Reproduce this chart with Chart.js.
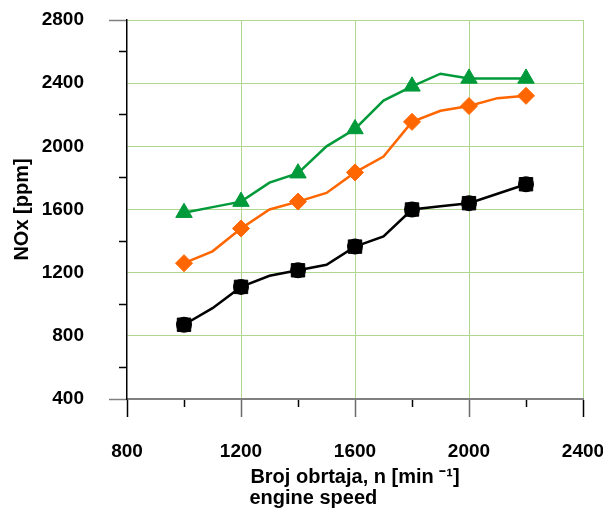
<!DOCTYPE html>
<html>
<head>
<meta charset="utf-8">
<script src="https://cdn.jsdelivr.net/npm/chart.js@4"></script>
<style>
  html, body { margin: 0; padding: 0; background: #fff; }
  #wrap { width: 603px; height: 509px; }
</style>
</head>
<body>
<div id="wrap"><canvas id="noxChart" width="603" height="509"></canvas></div>
<script>
// engine speed [min-1] and NOx [ppm]
const speeds    = [1000, 1100, 1200, 1300, 1400, 1500, 1600, 1700, 1800, 1900, 2000, 2100, 2200];
const noxGreen  = [1580, 1615, 1650, 1770, 1830, 2000, 2110, 2290, 2380, 2460, 2430, 2430, 2430];
const noxOrange = [1260, 1335, 1480, 1600, 1650, 1705, 1835, 1935, 2155, 2225, 2255, 2305, 2320];
const noxBlack  = [870, 975, 1110, 1180, 1215, 1250, 1365, 1430, 1600, 1620, 1640, 1700, 1760];

const xTicks = [800, 1200, 1600, 2000, 2400];
const yTicks = [400, 800, 1200, 1600, 2000, 2400, 2800];

const GRID = '#b0d78e';
const FONT = 'Liberation Sans, Arial, sans-serif';

const pts = arr => arr.map((v, i) => ({ x: speeds[i], y: v }));
// markers only on every second point
const marker = r => ctx => (ctx.dataIndex % 2 === 0 ? r : 0);

const ctx = document.getElementById('noxChart').getContext('2d');

new Chart(ctx, {
  type: 'line',
  data: {
    datasets: [
      {
        data: pts(noxGreen),
        borderColor: '#009a3a',
        backgroundColor: '#009a3a',
        borderWidth: 2.5,
        pointStyle: 'triangle',
        pointRadius: marker(9.5),
        pointBorderWidth: 1
      },
      {
        data: pts(noxOrange),
        borderColor: '#ff6600',
        backgroundColor: '#ff6600',
        borderWidth: 2.5,
        pointStyle: 'rectRot',
        pointRadius: marker(8.5),
        pointBorderWidth: 1
      },
      {
        data: pts(noxBlack),
        borderColor: '#000',
        backgroundColor: '#000',
        borderWidth: 2.5,
        pointStyle: 'rect',
        pointRadius: marker(9.5),
        pointBorderWidth: 1
      },
      {
        data: pts(noxBlack),
        showLine: false,
        borderColor: '#000',
        backgroundColor: '#000',
        pointStyle: 'circle',
        pointRadius: marker(8),
        pointBorderWidth: 0
      }
    ]
  },
  options: {
    responsive: false,
    animation: false,
    events: [],
    layout: { padding: { top: 20, right: 20, left: 0, bottom: 0 } },
    plugins: { legend: { display: false }, tooltip: { enabled: false } },
    elements: { line: { tension: 0 } },
    scales: {
      x: {
        type: 'linear',
        min: 800,
        max: 2400,
        afterFit: s => { s.height = 110; s.paddingLeft = 0; s.paddingRight = 0; },
        ticks: {
          stepSize: 200,
          autoSkip: false,
          maxRotation: 0,
          padding: 23,
          color: '#000',
          font: { family: FONT, size: 19, weight: 'bold' },
          callback: v => (xTicks.includes(v) ? String(v) : '')
        },
        grid: {
          tickLength: 18,
          color: c => (c.tick && xTicks.includes(c.tick.value) && c.tick.value > 800 ? GRID : 'rgba(0,0,0,0)'),
          tickColor: c => {
            const v = c.tick.value;
            if (v === 800 || v === 2400) return '#000';
            return xTicks.includes(v) ? '#6b6b6b' : '#000';
          },
          tickWidth: 1.5,
          tickBorderDash: c => (xTicks.includes(c.tick.value) ? [] : [7, 100])
        },
        border: { color: '#808080', width: 2 },
        title: {
          display: true,
          text: ['Broj obrtaja, n [min \u207B\u00B9]', 'engine speed' + ' '.repeat(15)],
          color: '#000',
          font: { family: FONT, size: 20, weight: 'bold', lineHeight: 1.05 },
          padding: { top: 0, bottom: 0 }
        }
      },
      y: {
        min: 400,
        max: 2800,
        afterFit: s => { s.width = 127; s.paddingTop = 0; s.paddingBottom = 0; },
        ticks: {
          stepSize: 200,
          autoSkip: false,
          padding: 25,
          color: '#000',
          font: { family: FONT, size: 19, weight: 'bold' },
          callback: v => (yTicks.includes(v) ? String(v) : '')
        },
        grid: {
          tickLength: 18,
          color: c => (c.tick && yTicks.includes(c.tick.value) && c.tick.value > 400 ? GRID : 'rgba(0,0,0,0)'),
          tickColor: c => {
            const v = c.tick.value;
            if (v === 400 || v === 2800) return '#808080';
            return yTicks.includes(v) ? 'rgba(0,0,0,0)' : '#000';
          },
          tickWidth: 1.5,
          tickBorderDash: c => (yTicks.includes(c.tick.value) ? [] : [0, 10, 8, 100])
        },
        border: { color: '#000', width: 1.5 },
        title: {
          display: true,
          text: 'NOx [ppm]',
          color: '#000',
          font: { family: FONT, size: 20, weight: 'bold' },
          padding: { top: 10, bottom: 0 }
        }
      }
    }
  }
});
</script>
</body>
</html>
